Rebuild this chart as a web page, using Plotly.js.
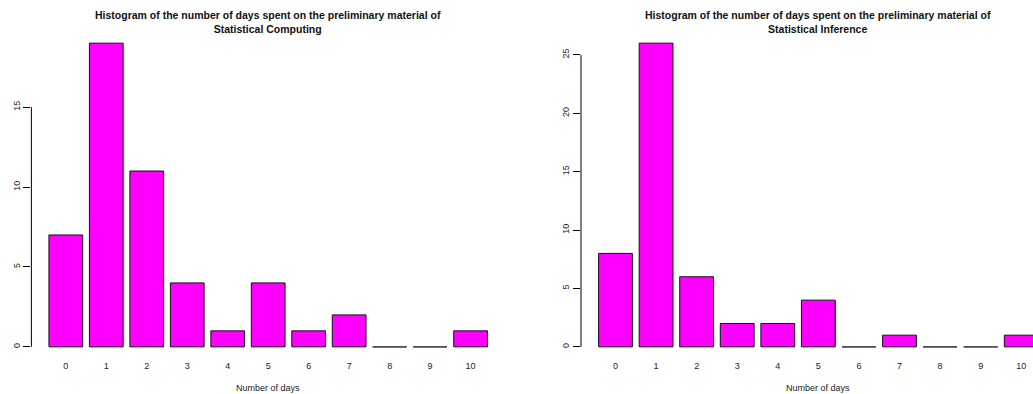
<!DOCTYPE html>
<html>
<head>
<meta charset="utf-8">
<script src="https://cdn.plot.ly/plotly-3.0.1.min.js"></script>
<style>
  html, body { margin: 0; padding: 0; background: #fff; overflow: hidden; }
  #chart { width: 1033px; height: 394px; }
</style>
</head>
<body>
<div id="chart"></div>
<script>
// ---- data ----
const categories = [0, 1, 2, 3, 4, 5, 6, 7, 8, 9, 10];
const tickLabels = ["0", "1", "2", "3", "4", "5", "6", "7", "8", "9", "10"];
const computingCounts = [7, 19, 11, 4, 1, 4, 1, 2, 0, 0, 1];
const inferenceCounts = [8, 26, 6, 2, 2, 4, 0, 1, 0, 0, 1];
const yTicksComputing = [0, 5, 10, 15];
const yTicksInference = [0, 5, 10, 15, 20, 25];
const titleComputing = "Histogram of the number of days spent on the preliminary material of<br>Statistical Computing";
const titleInference = "Histogram of the number of days spent on the preliminary material of<br>Statistical Inference";
const xTitle = "Number of days";

// ---- layout geometry ----
const W = 1033, H = 394;
const FONT = '"Liberation Sans", Arial, Helvetica, sans-serif';
const barGap = 1 / 6;
const halfBar = (1 - barGap) / 2;
const xDom1 = [31.4 / W, 505 / W];
const xDom2 = [581 / W, 1];
const yDom = [35 / H, 363 / H];

const barStyle = { color: '#FF00FF', line: { color: '#111', width: 1 } };

const traces = [
  { type: 'bar', x: categories, y: computingCounts, xaxis: 'x', yaxis: 'y', marker: barStyle, hoverinfo: 'skip' },
  { type: 'bar', x: categories, y: inferenceCounts, xaxis: 'x2', yaxis: 'y2', marker: barStyle, hoverinfo: 'skip' }
];

const shapes = [];
// zero-count bars drawn as flat outlines (as in R barplot)
function zeroBars(counts, xr, yr) {
  counts.forEach((v, i) => {
    if (v === 0) {
      shapes.push({ type: 'line', xref: xr, yref: yr, x0: categories[i] - halfBar, x1: categories[i] + halfBar,
        y0: v, y1: v, line: { color: '#666', width: 1 } });
    }
  });
}
zeroBars(computingCounts, 'x', 'y');
zeroBars(inferenceCounts, 'x2', 'y2');
// R-style y axis lines spanning only the tick range
shapes.push({ type: 'line', xref: 'paper', yref: 'y', x0: xDom1[0], x1: xDom1[0],
  y0: yTicksComputing[0], y1: yTicksComputing[yTicksComputing.length - 1], line: { color: '#000', width: 1 } });
shapes.push({ type: 'line', xref: 'paper', yref: 'y2', x0: xDom2[0], x1: xDom2[0],
  y0: yTicksInference[0], y1: yTicksInference[yTicksInference.length - 1], line: { color: '#000', width: 1 } });

function xAxis(domain, range, anchor) {
  return { domain: domain, range: range, anchor: anchor, tickvals: categories, ticktext: tickLabels,
    showgrid: false, zeroline: false, showline: false, ticks: '', tickfont: { size: 9, color: '#222', family: FONT },
    fixedrange: true };
}
function yAxis(range, ticks, anchor) {
  return { domain: yDom, range: range, anchor: anchor, tickvals: ticks, ticktext: ticks.map(String),
    showgrid: false, zeroline: false, showline: false, ticks: 'outside', ticklen: 7, tickwidth: 1, tickcolor: '#000',
    tickangle: -90, tickfont: { size: 9, color: '#222', family: FONT }, fixedrange: true };
}

const cx1 = (31.4 + 505) / 2 / W;
const cx2 = (581 + 1055.7) / 2 / W;

const layout = {
  width: W, height: H,
  margin: { l: 0, r: 0, t: 0, b: 0, pad: 0 },
  paper_bgcolor: '#fff', plot_bgcolor: '#fff',
  showlegend: false,
  bargap: barGap,
  font: { family: FONT, color: '#222' },
  xaxis: xAxis(xDom1, [-0.85, 10.85], 'y'),
  yaxis: yAxis([-0.76, 19.76], yTicksComputing, 'x'),
  xaxis2: xAxis(xDom2, [-0.85, 10.29], 'y2'),
  yaxis2: yAxis([-1.04, 27.04], yTicksInference, 'x2'),
  shapes: shapes,
  annotations: [
    { text: '<b>' + titleComputing + '</b>', xref: 'paper', yref: 'paper', x: cx1, y: (H - 22) / H,
      xanchor: 'center', yanchor: 'middle', showarrow: false, font: { size: 10.5, color: '#111', family: FONT } },
    { text: '<b>' + titleInference + '</b>', xref: 'paper', yref: 'paper', x: cx2, y: (H - 22) / H,
      xanchor: 'center', yanchor: 'middle', showarrow: false, font: { size: 10.5, color: '#111', family: FONT } },
    { text: xTitle, xref: 'paper', yref: 'paper', x: cx1, y: (H - 388) / H,
      xanchor: 'center', yanchor: 'middle', showarrow: false, font: { size: 9, color: '#222', family: FONT } },
    { text: xTitle, xref: 'paper', yref: 'paper', x: cx2, y: (H - 388) / H,
      xanchor: 'center', yanchor: 'middle', showarrow: false, font: { size: 9, color: '#222', family: FONT } }
  ]
};

Plotly.newPlot('chart', traces, layout, { staticPlot: true, displayModeBar: false });
</script>
</body>
</html>
